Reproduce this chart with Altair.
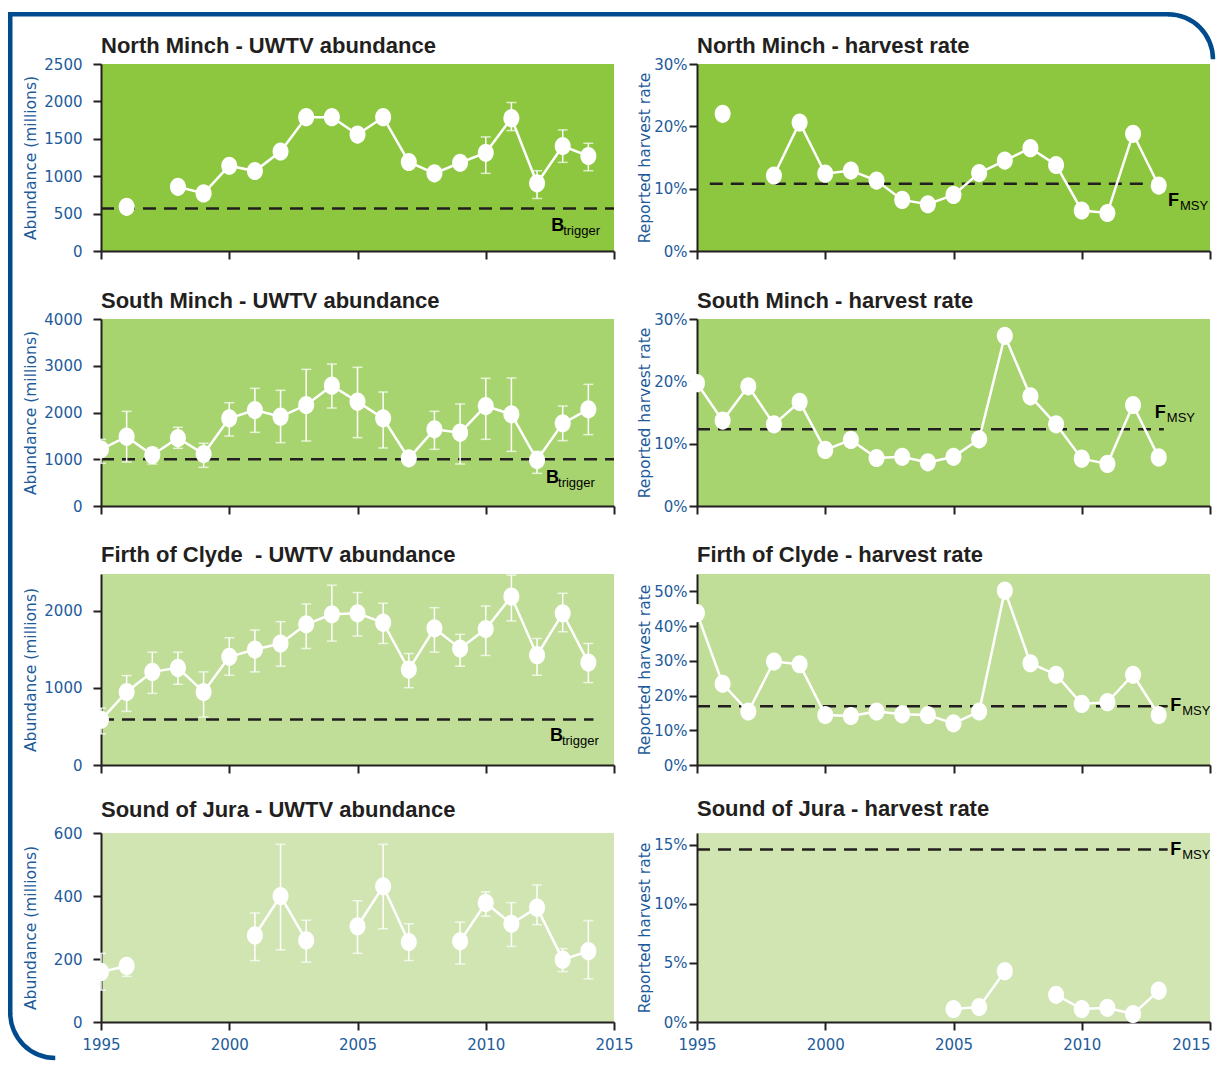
import math
import altair as alt
import pandas as pd

# ---------------- data ----------------
YEARS = list(range(1995, 2015))      # UWTV survey years 1995..2014
HR_YEARS = list(range(1995, 2014))   # harvest-rate years 1995..2013

# North Minch
nm_abund = [None, 590, None, 858, 770, 1140, 1069, 1330, 1789, 1789, 1556, 1789, 1190, 1038, 1180, 1314, 1776, 905, 1404, 1270]
nm_lo = [None] * 15 + [1038, 1610, 702, 1185, 1073]
nm_hi = [None] * 15 + [1525, 1985, 1073, 1619, 1440]
nm_hr = [None, 22.0, None, 12.1, 20.6, 12.4, 12.9, 11.3, 8.2, 7.5, 9.0, 12.5, 14.5, 16.5, 13.8, 6.5, 6.1, 18.8, 10.5]
nm_btrigger = 568
nm_fmsy = 10.8

# South Minch
sm_abund = [1212, 1483, 1091, 1455, 1112, 1875, 2053, 1911, 2160, 2574, 2232, 1875, 1020, 1640, 1569, 2139, 1961, 984, 1768, 2068]
sm_lo = [913, 941, 898, 1234, 827, 1497, 1576, 1355, 1390, 2096, 1462, 1241, 960, 1212, 898, 1426, 1169, 699, 1398, 1526]
sm_hi = [1426, 2025, 1241, 1683, 1340, 2210, 2517, 2474, 2923, 3037, 2966, 2438, 1080, 2025, 2182, 2731, 2738, 1169, 2139, 2602]
sm_hr = [19.7, 13.7, 19.2, 13.1, 16.7, 9.0, 10.6, 7.7, 7.9, 7.0, 7.9, 10.7, 27.3, 17.6, 13.1, 7.6, 6.75, 16.2, 7.8]
sm_btrigger = 1000
sm_fmsy = 12.3

# Firth of Clyde
fc_abund = [587, 948, 1209, 1261, 948, 1404, 1500, 1578, 1826, 1957, 1970, 1848, 1239, 1774, 1513, 1765, 2187, 1426, 1970, 1330]
fc_lo = [404, 696, 930, 1048, 622, 1165, 1209, 1283, 1513, 1609, 1674, 1578, 1004, 1465, 1283, 1422, 1870, 1165, 1730, 1070]
fc_hi = [739, 1161, 1465, 1465, 1209, 1652, 1752, 1861, 2091, 2335, 2239, 2100, 1448, 2043, 1696, 2065, 2465, 1643, 2230, 1578]
fc_hr = [43.75, 23.4, 15.4, 29.8, 29.0, 14.4, 14.1, 15.4, 14.6, 14.4, 12.0, 15.4, 50.2, 29.3, 26.0, 17.6, 18.1, 26.0, 14.4]
fc_btrigger = 590
fc_fmsy = 16.9

# Sound of Jura
sj_abund = [159, 178, None, None, None, None, 275, 400, 259, None, 304, 431, 254, None, 256, 378, 312, 363, 198, 225]
sj_lo = [101, 145, None, None, None, None, 195, 229, 190, None, 218, 296, 195, None, 184, 336, 240, 309, 160, 137]
sj_hi = [218, 192, None, None, None, None, 346, 564, 323, None, 385, 564, 312, None, 317, 413, 379, 435, 233, 322]
sj_hr = [None] * 10 + [1.1, 1.26, 4.3, None, 2.3, 1.1, 1.2, 0.67, 2.65]
sj_fmsy = 14.6

# ---------------- styles ----------------
DARK = "#231F20"
BLUE = "#1D5B9B"
FRAME = "#004B8D"
BG = ["#8DC63F", "#A8D470", "#C0DE97", "#D1E5B3"]
TFONT = "Liberation Sans"
AFONT = "DejaVu Sans"
W = 513
ROW_H = [187, 187, 191, 189]
ELLIPSE = "M0,-1 A0.88,1 0 1,1 0,1 A0.88,1 0 1,1 0,-1 Z"


def build_df(years, vals, lo=None, hi=None):
    rows, seg, prev = [], 0, False
    for i, yr in enumerate(years):
        v = vals[i]
        if v is None:
            if prev:
                seg += 1
            prev = False
            continue
        rows.append({"year": yr, "v": v,
                     "lo": (lo[i] if lo is not None else None),
                     "hi": (hi[i] if hi is not None else None),
                     "seg": seg})
        prev = True
    return pd.DataFrame(rows)


def panel(title, ytitle, years, vals, lo, hi, ydomain, yticks, bg, pct, bottom,
          ref, ref_x, lab_main, lab_sub, lab_x, lab_dy, title_x, lab_pad, h, toff,
          last_right=False):
    df = build_df(years, vals, lo, hi)

    xargs = dict(values=[1995, 2000, 2005, 2010, 2015], format="d", labels=bottom,
                 title=None, grid=False, domainColor=DARK, domainWidth=2,
                 tickColor=DARK, tickWidth=2, tickSize=8, labelColor=BLUE,
                 labelFontSize=15, labelFont=AFONT, labelPadding=7, labelFlush=False)
    if last_right:
        xargs["labelAlign"] = {"expr": "datum.value == 2015 ? 'right' : 'center'"}
    xaxis = alt.Axis(**xargs)
    yargs = dict(values=yticks, title=ytitle, grid=False, domainColor=DARK, domainWidth=2,
                 tickColor=DARK, tickWidth=2, tickSize=8, labelColor=BLUE, labelFontSize=15,
                 labelFont=AFONT, labelPadding=lab_pad, titleColor=BLUE, titleFontSize=15.5,
                 titleFont=AFONT, titleFontWeight="normal", titleX=title_x, titleY=h / 2,
                 titleAlign="center", titleBaseline="middle", titleAngle=270, labelFlush=False,
                 format="d")
    if pct:
        yargs["labelExpr"] = "datum.value + '%'"
    yaxis = alt.Axis(**yargs)
    xs = alt.Scale(domain=[1995, 2015], nice=False, zero=False)
    ys = alt.Scale(domain=ydomain, nice=False, zero=True)

    def X(f):
        return alt.X(f, type="quantitative", scale=xs, axis=xaxis)

    def Y(f):
        return alt.Y(f, type="quantitative", scale=ys, axis=yaxis)

    layers = []
    refdf = pd.DataFrame({"x0": [ref_x[0]], "x1": [ref_x[1]], "r": [ref], "lx": [lab_x]})
    if ref is not None:
        layers.append(alt.Chart(refdf).mark_rule(color=DARK, strokeWidth=2.5, strokeDash=[13, 8])
                      .encode(x=X("x0"), x2="x1", y=Y("r")))
    base = alt.Chart(df)
    if lo is not None:
        eb = base.transform_filter("isValid(datum.lo)")
        layers.append(eb.mark_rule(color="white", strokeWidth=1.5).encode(x=X("year"), y=Y("lo"), y2="hi"))
        layers.append(eb.mark_tick(color="white", thickness=1.5, size=10, orient="horizontal")
                      .encode(x=X("year"), y=Y("lo")))
        layers.append(eb.mark_tick(color="white", thickness=1.5, size=10, orient="horizontal")
                      .encode(x=X("year"), y=Y("hi")))
    layers.append(base.mark_line(color="white", strokeWidth=2.5).encode(x=X("year"), y=Y("v"), detail="seg:N"))
    layers.append(base.mark_point(shape=ELLIPSE, filled=True, color="white", opacity=1, size=330,
                                  strokeWidth=0).encode(x=X("year"), y=Y("v")))
    if ref is not None and lab_main:
        layers.append(alt.Chart(refdf).mark_text(text=lab_main, font=TFONT, fontWeight="bold", fontSize=18,
                                                 align="left", baseline="middle", dy=lab_dy, color="#000000")
                      .encode(x=X("lx"), y=Y("r")))
        layers.append(alt.Chart(refdf).mark_text(text=lab_sub, font=TFONT, fontSize=13,
                                                 align="left", baseline="middle", dx=12, dy=lab_dy + 5,
                                                 color="#000000")
                      .encode(x=X("lx"), y=Y("r")))

    return alt.layer(*layers).properties(
        width=W, height=h,
        title=alt.TitleParams(title, anchor="start", frame="group", font=TFONT, fontSize=22,
                              fontWeight="bold", color=DARK, offset=toff),
        view=alt.ViewBackground(fill=bg, stroke=None),
    )


def frame_chart():
    # decorative rounded blue frame around the whole figure (pixel positions,
    # relative to the top-left plot origin); kept inside the 1226x1070 page
    one = pd.DataFrame({"a": [0]})
    c = alt.Chart(one)
    parts = [
        c.mark_rect(color=FRAME, clip=False)
         .encode(x=alt.value(-93), x2=alt.value(1068), y=alt.value(-51), y2=alt.value(-46.5)),
        c.mark_rect(color=FRAME, clip=False)
         .encode(x=alt.value(-93), x2=alt.value(-88.5), y=alt.value(-51), y2=alt.value(951)),
        c.mark_arc(color=FRAME, radius=47.25, radius2=42.75, theta=0, theta2=math.pi / 2, clip=False)
         .encode(x=alt.value(1067), y=alt.value(-3.75)),
        c.mark_arc(color=FRAME, radius=47.25, radius2=42.75, theta=math.pi, theta2=1.5 * math.pi, clip=False)
         .encode(x=alt.value(-45.75), y=alt.value(950)),
    ]
    return alt.layer(*parts).properties(width=1, height=1, view=alt.ViewBackground(stroke=None))


LX, RX = -71, -53
LP, RP = 11, 2
ABT = "Abundance (millions)"
HRT = "Reported harvest rate"

p1 = panel("North Minch - UWTV abundance", ABT, YEARS, nm_abund, nm_lo, nm_hi, [0, 2500],
           [0, 500, 1000, 1500, 2000, 2500], BG[0], False, False,
           nm_btrigger, (1995, 2015), "B", "trigger", 2012.55, 17, LX, LP, ROW_H[0], -1)
p2 = panel("North Minch - harvest rate", HRT, HR_YEARS, nm_hr, None, None, [0, 30],
           [0, 10, 20, 30], BG[0], True, False,
           nm_fmsy, (1995.5, 2013.5), "F", "MSY", 2013.36, 17, RX, RP, ROW_H[0], -1)
p3 = panel("South Minch - UWTV abundance", ABT, YEARS, sm_abund, sm_lo, sm_hi, [0, 4000],
           [0, 1000, 2000, 3000, 4000], BG[1], False, False,
           sm_btrigger, (1995, 2015), "B", "trigger", 2012.35, 19, LX, LP, ROW_H[1], -1)
p4 = panel("South Minch - harvest rate", HRT, HR_YEARS, sm_hr, None, None, [0, 30],
           [0, 10, 20, 30], BG[1], True, False,
           sm_fmsy, (1995, 2013.2), "F", "MSY", 2012.85, -16, RX, RP, ROW_H[1], -1)
p5 = panel("Firth of Clyde\u00a0 - UWTV abundance", ABT, YEARS, fc_abund, fc_lo, fc_hi, [0, 2480],
           [0, 1000, 2000], BG[2], False, False,
           fc_btrigger, (1995, 2014.2), "B", "trigger", 2012.5, 16, LX, LP, ROW_H[2], 7)
p6 = panel("Firth of Clyde - harvest rate", HRT, HR_YEARS, fc_hr, None, None, [0, 55],
           [0, 10, 20, 30, 40, 50], BG[2], True, False,
           fc_fmsy, (1995, 2013.35), "F", "MSY", 2013.45, 0, RX, RP, ROW_H[2], 7)
p7 = panel("Sound of Jura - UWTV abundance", ABT, YEARS, sj_abund, sj_lo, sj_hi, [0, 600],
           [0, 200, 400, 600], BG[3], False, True,
           None, (1995, 2015), None, None, 2013, 0, LX, LP, ROW_H[3], 4)
p8 = panel("Sound of Jura - harvest rate", HRT, HR_YEARS, sj_hr, None, None, [0, 16],
           [0, 5, 10, 15], BG[3], True, True,
           sj_fmsy, (1995, 2013.35), "F", "MSY", 2013.45, 0, RX, RP, ROW_H[3], 12,
           last_right=True)

grid = alt.concat(p1, p2, p3, p4, p5, p6, p7, p8, columns=2, align="each",
                  spacing={"row": 68, "column": 83}, bounds="flush")

chart = alt.vconcat(frame_chart(), grid, spacing=0, bounds="flush").properties(
    padding={"left": 0, "top": 4, "right": 0, "bottom": 0},
    background="white",
).configure_view(stroke=None)

chart.save("out.html", embed_options={"renderer": "svg", "actions": False})
